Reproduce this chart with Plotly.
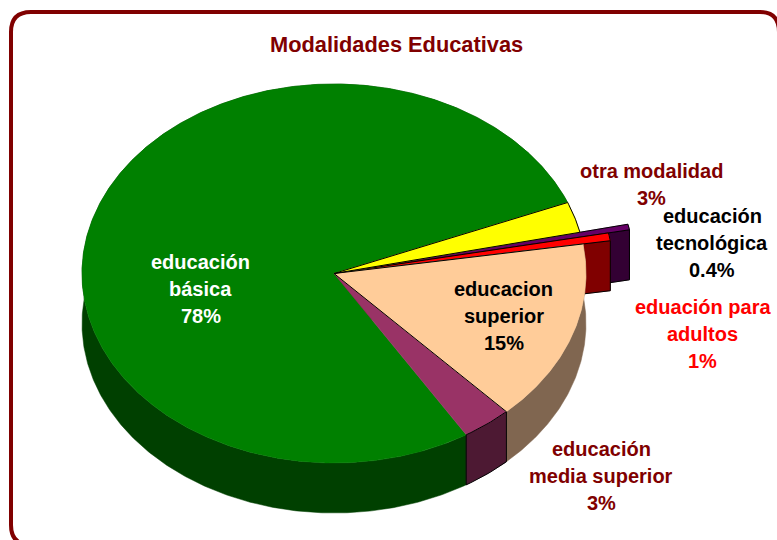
import numpy as np
import plotly.graph_objects as go

# Data, clockwise from the upper edge of "otra modalidad"
categories = ["otra modalidad", "educación tecnológica", "eduación para adultos",
              "educacion superior", "educación media superior", "educación básica"]
values = [2.62, 0.4, 0.6, 15.5, 3.2, 77.68]
label_lines = [["otra modalidad", "3%"], ["educación", "tecnológica", "0.4%"],
               ["eduación para", "adultos", "1%"], ["educacion", "superior", "15%"],
               ["educación", "media superior", "3%"], ["educación", "básica", "78%"]]
explode = [0, 0.195, 0.11, 0, 0, 0]
top_colors = ["#FFFF00", "#660066", "#FF0000", "#FFCC99", "#993366", "#008000"]
side_colors = ["#808000", "#330033", "#800000", "#806650", "#4D1933", "#004000"]
text_colors = ["#800000", "#000000", "#FF0000", "#000000", "#800000", "#FFFFFF"]
label_pos = [(651.5, 171), (712, 216), (702.5, 307), (503.5, 289), (601, 449), (200.5, 262)]
title = "Modalidades Educativas"

FIRST_ANGLE = 22.0
CX, CY, RX, RY, DEPTH = 334, 273.5, 252, 189.5, 50
FONT = "Liberation Sans, Arial, sans-serif"
DARK = "#800000"

edges = FIRST_ANGLE - np.cumsum([0] + values) * 3.6


def arc(a0, a1, reach=1.0, dy=0.0):
    t = np.radians(np.linspace(a0, a1, max(3, int(abs(a1 - a0) * 2))))
    return CX + RX * reach * np.cos(t), CY - RY * reach * np.sin(t) + dy


def polygon(fig, x, y, color):
    fig.add_trace(go.Scatter(x=list(x) + [x[0]], y=list(y) + [y[0]], mode="lines",
                             fill="toself", fillcolor=color,
                             line=dict(color=color, width=0.5),
                             hoverinfo="skip", showlegend=False))


def stroke(fig, x, y, width=1):
    fig.add_trace(go.Scatter(x=list(x), y=list(y), mode="lines",
                             line=dict(color="#000000", width=width),
                             hoverinfo="skip", showlegend=False))


def top(fig, i):
    r = 1 + explode[i]
    ax, ay = arc(edges[i], edges[i + 1], r)
    polygon(fig, np.r_[CX, ax], np.r_[CY, ay], top_colors[i])
    return ax, ay


def side(fig, i):
    ax, ay = arc(edges[i], edges[i + 1])
    polygon(fig, np.r_[ax, ax[::-1]], np.r_[ay, ay[::-1] + DEPTH], side_colors[i])
    return ax, ay


def cut_face(fig, i):
    ax, ay = arc(edges[i + 1], edges[i + 1], 1 + explode[i])
    px, py = ax[0], ay[0]
    polygon(fig, [CX, px, px, CX], [CY, py, py + DEPTH, CY + DEPTH], side_colors[i])
    stroke(fig, [CX, px, px, CX], [CY, py, py + DEPTH, CY + DEPTH])


fig = go.Figure()

# Rear and exploded parts
side(fig, 5)
side(fig, 4)
for i in (1, 2):
    cut_face(fig, i)
    ax, ay = top(fig, i)
    stroke(fig, np.r_[CX, ax, CX], np.r_[CY, ay, CY])

side(fig, 3)

# Top surfaces
top(fig, 5)
ax, ay = top(fig, 4)
stroke(fig, ax, ay)
top(fig, 3)
ax, ay = top(fig, 0)
stroke(fig, np.r_[CX, ax, CX], np.r_[CY, ay, CY])

# Edges of the media superior slice and its side
ax0, ay0 = arc(edges[4], edges[4])
ax1, ay1 = arc(edges[5], edges[5])
stroke(fig, [CX, ax0[0], ax0[0]], [CY, ay0[0], ay0[0] + DEPTH])
stroke(fig, [ax1[0], ax1[0]], [ay1[0], ay1[0] + DEPTH])
bx, by = arc(edges[4], edges[5], 1, DEPTH)
stroke(fig, bx, by)
# Upper edge of the superior slice
ax2, ay2 = arc(edges[3], edges[3])
stroke(fig, [CX, ax2[0]], [CY, ay2[0]])

annotations = [dict(x=396, y=44, xref="x", yref="y", text=f"<b>{title}</b>", showarrow=False,
                    xanchor="center", yanchor="middle",
                    font=dict(family=FONT, size=21.8, color=DARK))]
for lines, (lx, ly), col in zip(label_lines, label_pos, text_colors):
    for k, line in enumerate(lines):
        annotations.append(dict(x=lx, y=ly + 27 * k, xref="x", yref="y",
                                text=f"<b>{line}</b>", showarrow=False,
                                xanchor="center", yanchor="middle",
                                font=dict(family=FONT, size=20, color=col)))

border = ("M 11,32 Q 11,12 31,12 L 760,12 Q 779,12 779,32 "
          "L 779,541 Q 779,545 775,545 L 31,545 Q 11,545 11,525 Z")

fig.update_layout(
    width=777, height=540, margin=dict(l=0, r=0, t=0, b=0),
    paper_bgcolor="#FFFFFF", plot_bgcolor="#FFFFFF", showlegend=False,
    xaxis=dict(range=[0, 777], visible=False, fixedrange=True),
    yaxis=dict(range=[540, 0], visible=False, fixedrange=True),
    annotations=annotations,
    shapes=[dict(type="path", path=border, xref="x", yref="y",
                 line=dict(color=DARK, width=4), layer="above")],
)

fig.write_html("out.html", config={"displayModeBar": False},
               post_script="document.body.style.margin='0';document.body.style.overflow='hidden';")
